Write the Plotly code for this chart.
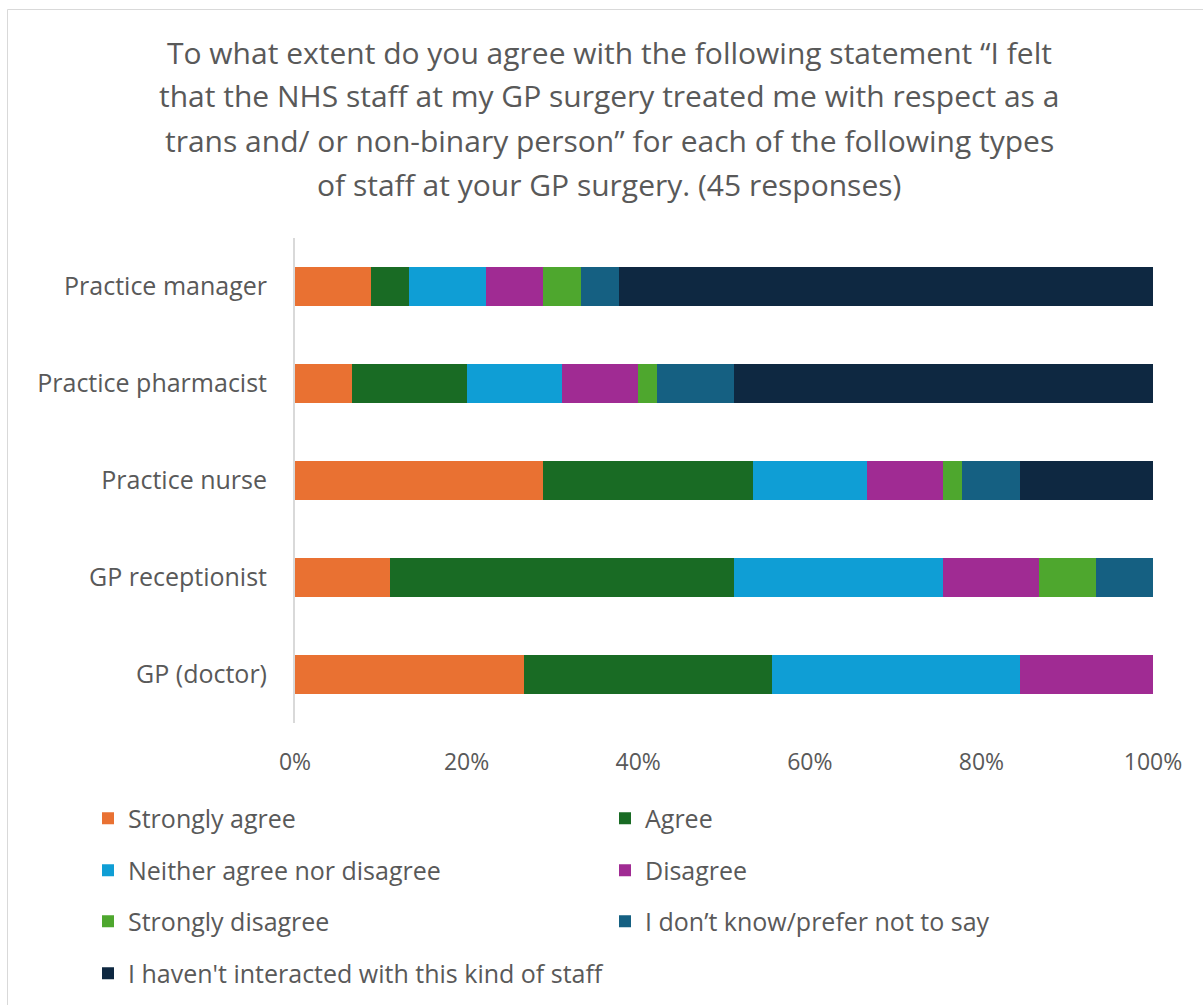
import plotly.graph_objects as go

# Staff types (top to bottom as displayed)
staff = ["Practice manager", "Practice pharmacist", "Practice nurse",
         "GP receptionist", "GP (doctor)"]

# Number of respondents (out of 45) choosing each answer, per staff type
strongly_agree = [4, 3, 13, 5, 12]
agree = [2, 6, 11, 18, 13]
neither = [4, 5, 6, 11, 13]
disagree = [3, 4, 4, 5, 7]
strongly_disagree = [2, 1, 1, 3, 0]
dont_know = [2, 4, 3, 3, 0]
not_interacted = [28, 22, 7, 0, 0]

series = [
    ("Strongly agree", strongly_agree, "#E97132"),
    ("Agree", agree, "#196B24"),
    ("Neither agree nor disagree", neither, "#0F9ED5"),
    ("Disagree", disagree, "#A02B93"),
    ("Strongly disagree", strongly_disagree, "#4EA72E"),
    ("I don\u2019t know/prefer not to say", dont_know, "#156082"),
    ("I haven't interacted with this kind of staff", not_interacted, "#0E2841"),
]

title_lines = [
    "To what extent do you agree with the following statement \u201cI felt",
    "that the NHS staff at my GP surgery treated me with respect as a",
    "trans and/ or non-binary person\u201d for each of the following types",
    "of staff at your GP surgery. (45 responses)",
]

W, H = 1203, 1005
L, R, T, B = 295, 1153, 238, 723
FONT = "Open Sans"
GREY = "#595959"


def px_x(px):
    return (px - L) / (R - L)


def px_y(py):
    return (B - py) / (B - T)


fig = go.Figure()
legend_ids = ["legend"] + [f"legend{i}" for i in range(2, len(series) + 1)]
for (name, vals, color), lid in zip(series, legend_ids):
    fig.add_trace(go.Bar(
        y=staff, x=vals, name=name, orientation="h",
        marker=dict(color=color, line=dict(width=0)),
        legend=lid,
    ))

# Legend laid out as a two-column grid, one legend box per entry
legend_rows_y = [819, 871, 922, 974]
legend_cols_x = [88, 605]
layout_legends = {}
for i, lid in enumerate(legend_ids):
    row, col = divmod(i, 2)
    layout_legends[lid] = dict(
        orientation="h", xref="paper", yref="container",
        x=px_x(legend_cols_x[col]), xanchor="left",
        y=1 - (legend_rows_y[row] - 0.5) / H, yanchor="middle",
        font=dict(family=FONT, size=25, color=GREY),
        bgcolor="rgba(0,0,0,0)",
    )

fig.update_layout(
    width=W, height=H,
    margin=dict(l=L, r=W - R, t=T, b=H - B, pad=0),
    paper_bgcolor="white", plot_bgcolor="white",
    barmode="stack", barnorm="percent", bargap=0.6,
    font=dict(family=FONT, color=GREY),
    xaxis=dict(range=[0, 100], tickvals=[0, 20, 40, 60, 80, 100],
               ticktext=["0%", "20%", "40%", "60%", "80%", "100%"],
               showgrid=False, zeroline=False, showline=False,
               tickfont=dict(family=FONT, size=23, color=GREY),
               ticklabelstandoff=23, fixedrange=True, automargin=False),
    yaxis=dict(categoryorder="array", categoryarray=staff[::-1],
               showgrid=False, zeroline=False, showline=True,
               linecolor="#D9D9D9", linewidth=2,
               tickfont=dict(family=FONT, size=25, color=GREY),
               ticklabelstandoff=21, fixedrange=True, automargin=False),
    showlegend=True,
    **layout_legends,
)

# Title, one annotation per line
for line, cy in zip(title_lines, [52, 96, 140, 185]):
    fig.add_annotation(text=line, xref="paper", yref="paper",
                       x=px_x(609), y=px_y(cy), xanchor="center",
                       yanchor="middle", showarrow=False,
                       font=dict(family=FONT, size=30, color=GREY))

# Chart area border
fig.add_shape(type="rect", xref="paper", yref="paper",
              x0=px_x(7.5), x1=px_x(1215), y0=px_y(9.5), y1=px_y(1015),
              line=dict(color="#D9D9D9", width=1), layer="below")

fig.write_html("out.html")
